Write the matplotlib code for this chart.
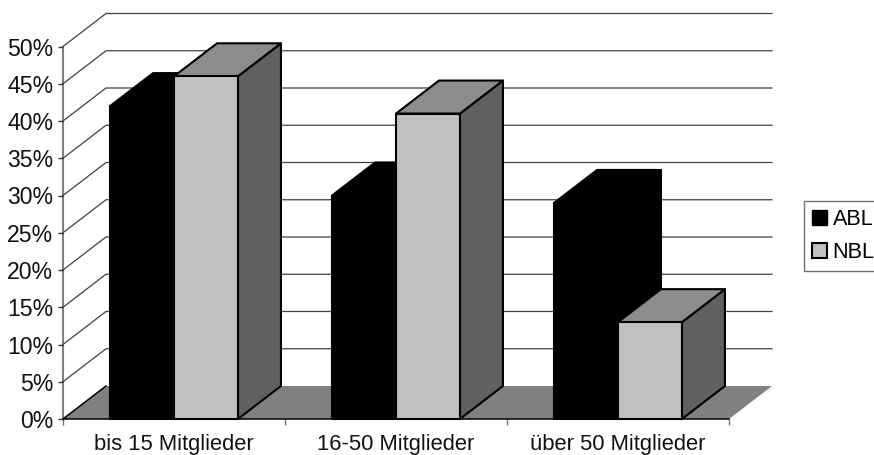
import matplotlib
matplotlib.use('Agg')
import matplotlib.pyplot as plt
from matplotlib.patches import Patch, Polygon

plt.rcParams['font.family'] = ['Liberation Sans', 'DejaVu Sans']

categories = ['bis 15 Mitglieder', '16-50 Mitglieder', 'über 50 Mitglieder']
abl = [42, 30, 29]
nbl = [46, 41, 13]
y_ticks = [0, 5, 10, 15, 20, 25, 30, 35, 40, 45, 50]

# 3D look: how far the back wall is shifted, in axis units
depth_x = 43 / 222
depth_y = 33 / 7.45
bar_w = 0.288
bar_start = 0.212

fig = plt.figure(figsize=(8.74, 4.55), dpi=100)
ax = fig.add_axes([63 / 874, 36 / 455, 666 / 874, 372.5 / 455])
ax.set_xlim(0, 3)
ax.set_ylim(0, 50)
for s in ['top', 'right', 'bottom']:
    ax.spines[s].set_visible(False)
ax.spines['left'].set_color('#808080')
ax.spines['left'].set_linewidth(1.5)
ax.spines['left'].set_zorder(1)


def poly(pts, color, edge, z):
    ax.add_patch(Polygon(pts, closed=True, facecolor=color, edgecolor=edge,
                         linewidth=1.5, joinstyle='round', clip_on=False, zorder=z))


# floor
ax.add_patch(Polygon([(0, 0), (depth_x, depth_y), (3 + depth_x, depth_y), (3, 0)],
                     closed=True, facecolor='#808080', edgecolor='none', clip_on=False, zorder=2))
# front and left edge of the floor
ax.plot([depth_x, 0, 3], [depth_y, 0, 0], color='black', linewidth=1.1, clip_on=False, zorder=2.5)

# gridlines on the wall and the side
for v in y_ticks[1:]:
    ax.plot([0, depth_x, 3 + depth_x], [v, v + depth_y, v + depth_y], color='#404040',
            linewidth=0.9, clip_on=False, zorder=2)


def draw_bar(x, v, front, top, side, z):
    w = bar_w
    poly([(x + w, 0), (x + w + depth_x, depth_y), (x + w + depth_x, v + depth_y), (x + w, v)], side, 'black', z)
    poly([(x, v), (x + depth_x, v + depth_y), (x + w + depth_x, v + depth_y), (x + w, v)], top, 'black', z)
    poly([(x, 0), (x + w, 0), (x + w, v), (x, v)], front, 'black', z + 0.1)


for i in range(len(categories)):
    draw_bar(i + bar_start, abl[i], 'black', 'black', 'black', 3 + i)
    draw_bar(i + bar_start + bar_w, nbl[i], '#c0c0c0', '#8c8c8c', '#606060', 3.5 + i)

ax.set_yticks(y_ticks)
ax.set_yticklabels([f'{v}%' for v in y_ticks], fontsize=16.6, color='#111111')
ax.set_xticks([0, 1, 2, 3])
ax.set_xticklabels([])
ax.set_xticks([0.5, 1.5, 2.5], minor=True)
ax.set_xticklabels(categories, minor=True, fontsize=15.8, color='#111111')
ax.tick_params(axis='x', which='minor', length=0, pad=11)
ax.tick_params(axis='x', which='major', length=4.5, width=1, color='#707070')
ax.tick_params(axis='y', length=3.6, width=1, color='#333333', pad=3.5)

handles = [Patch(facecolor='black', edgecolor='black', label='ABL'),
           Patch(facecolor='#c0c0c0', edgecolor='black', linewidth=1.5, label='NBL')]
leg = fig.legend(handles=handles, loc='upper left', bbox_to_anchor=(804 / 874, 1 - 201 / 455),
                 fontsize=15.6, fancybox=False, edgecolor='#707070', framealpha=1,
                 borderaxespad=0, borderpad=0.36, handlelength=0.7, handleheight=0.7,
                 handletextpad=0.26, labelspacing=0.55)
leg.get_frame().set_linewidth(1.0)

fig.savefig('out.png', dpi=100)
